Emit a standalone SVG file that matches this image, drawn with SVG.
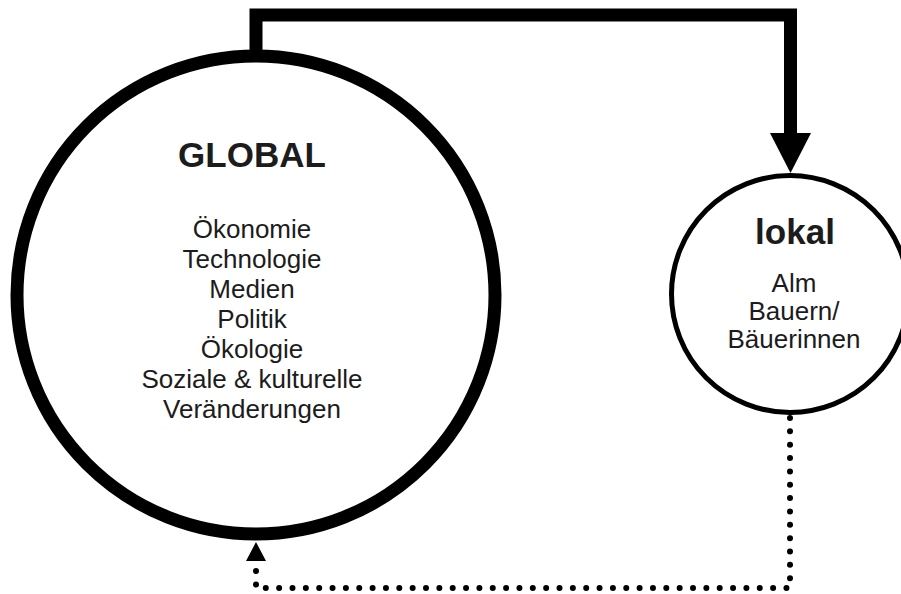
<svg xmlns="http://www.w3.org/2000/svg" width="901" height="594" viewBox="0 0 901 594">
<style>
.t{font-family:"Liberation Sans",Arial,sans-serif;fill:#1c1c1c;text-anchor:middle}
.h{font-weight:bold;font-size:35px}
.b{font-size:26px}
.node{fill:#fff;stroke:#000}
</style>
<rect width="901" height="594" fill="#fff"/>
<g id="connectors">
<path d="M256,56 V15 H790.5 V134" fill="none" stroke="#000" stroke-width="13"/>
<polygon points="770,133 811,133 790.5,173" fill="#000"/>
<path d="M790,418 V588 H256 V563" fill="none" stroke="#000" stroke-width="6" stroke-linecap="round" stroke-dasharray="0 13.35"/>
<polygon points="246,561 266,561 256,542" fill="#000"/>
</g>
<g id="global">
<circle class="node" cx="256" cy="295" r="239" stroke-width="13"/>
<text class="t h" x="252" y="167">GLOBAL</text>
<text class="t b" x="252" y="238">Ökonomie</text>
<text class="t b" x="252" y="268">Technologie</text>
<text class="t b" x="252" y="298">Medien</text>
<text class="t b" x="252" y="328">Politik</text>
<text class="t b" x="252" y="358">Ökologie</text>
<text class="t b" x="252" y="388">Soziale &amp; kulturelle</text>
<text class="t b" x="252" y="418">Veränderungen</text>
</g>
<g id="lokal">
<circle class="node" cx="790" cy="294" r="118.5" stroke-width="5"/>
<text class="t h" x="795" y="244">lokal</text>
<text class="t b" x="794" y="292">Alm</text>
<text class="t b" x="794" y="320">Bauern/</text>
<text class="t b" x="794" y="348">Bäuerinnen</text>
</g>
</svg>
